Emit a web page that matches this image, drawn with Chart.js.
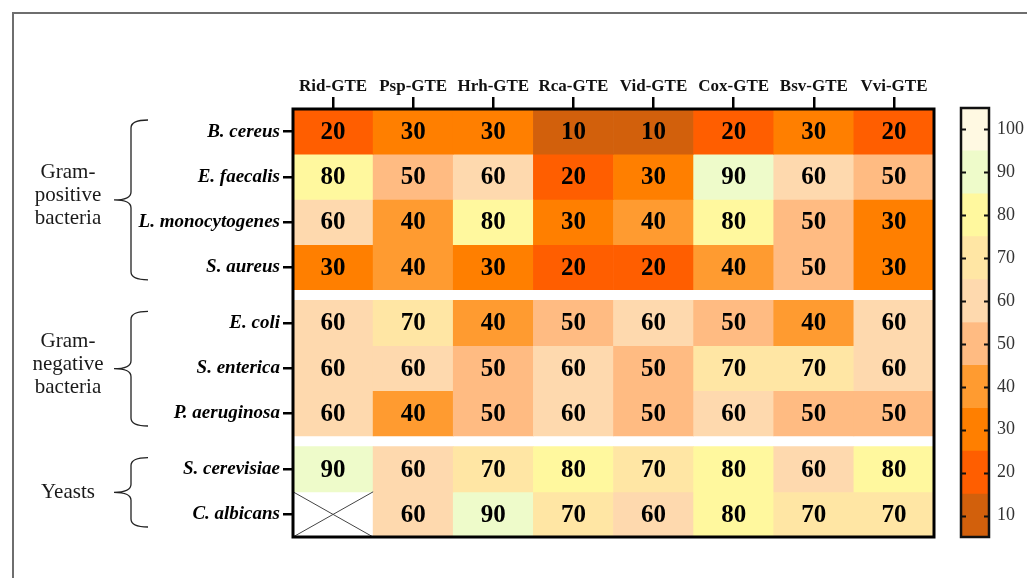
<!DOCTYPE html>
<html>
<head>
<meta charset="utf-8">
<script src="https://cdn.jsdelivr.net/npm/chart.js@4.4.1/dist/chart.umd.min.js"></script>
<style>
  html, body { margin: 0; padding: 0; background: #fff; }
  #wrap { position: relative; width: 1027px; height: 578px; overflow: hidden; }
  #frame { position: absolute; left: 12px; top: 12px; width: 1100px; height: 700px;
           border-left: 2px solid #6e6e6e; border-top: 2px solid #6e6e6e; }
  #main { position: absolute; left: 0; top: 0; }
  #scaleBar { position: absolute; left: 940px; top: 0; }
</style>
</head>
<body>
<div id="wrap">
  <div id="frame"></div>
  <canvas id="main" width="1027" height="578"></canvas>
  <canvas id="scaleBar" width="87" height="578"></canvas>
</div>
<script>
// Green tea extracts (columns)
const extracts = ['Rid-GTE', 'Psp-GTE', 'Hrh-GTE', 'Rca-GTE', 'Vid-GTE', 'Cox-GTE', 'Bsv-GTE', 'Vvi-GTE'];

// Test organisms (rows), top to bottom
const organisms = ['B. cereus', 'E. faecalis', 'L. monocytogenes', 'S. aureus',
                   'E. coli', 'S. enterica', 'P. aeruginosa',
                   'S. cerevisiae', 'C. albicans'];

// Organism groups with the number of rows each covers
const groupNames = [['Gram-', 'positive', 'bacteria'], ['Gram-', 'negative', 'bacteria'], ['Yeasts']];
const groupSizes = [4, 3, 2];

// Values per organism, one entry per extract (null = not tested)
const bCereus        = [20, 30, 30, 10, 10, 20, 30, 20];
const eFaecalis      = [80, 50, 60, 20, 30, 90, 60, 50];
const lMonocytogenes = [60, 40, 80, 30, 40, 80, 50, 30];
const sAureus        = [30, 40, 30, 20, 20, 40, 50, 30];
const eColi          = [60, 70, 40, 50, 60, 50, 40, 60];
const sEnterica      = [60, 60, 50, 60, 50, 70, 70, 60];
const pAeruginosa    = [60, 40, 50, 60, 50, 60, 50, 50];
const sCerevisiae    = [90, 60, 70, 80, 70, 80, 60, 80];
const cAlbicans      = [null, 60, 90, 70, 60, 80, 70, 70];

// Colour scale levels and their colours
const levels = [10, 20, 30, 40, 50, 60, 70, 80, 90, 100];
const levelColors = ['#d2600c', '#ff5e00', '#ff7f00', '#ff9b30', '#ffbb82',
                     '#fed9ae', '#ffe6a4', '#fff89e', '#eefbca', '#fff9e2'];

const rows = [bCereus, eFaecalis, lMonocytogenes, sAureus, eColi, sEnterica, pAeruginosa, sCerevisiae, cAlbicans];

const SERIF = '"Liberation Serif", "DejaVu Serif", serif';
const GROUP_GAP = 0.235;   // white separator between groups, in row heights

// Row placement on the value axis (top of each row, reversed axis)
const rowTop = [];
const groupSpan = [];
let pos = 0;
groupSizes.forEach((n, g) => {
  if (g > 0) pos += GROUP_GAP;
  const start = pos;
  for (let k = 0; k < n; k++) { rowTop.push(pos); pos += 1; }
  groupSpan.push([start, pos]);
});
const yMax = pos;

const colorFor = v => v == null ? '#ffffff' : levelColors[levels.indexOf(v)];

// Numbers, missing-cell cross, frame, braces and group labels
const heatDecor = {
  id: 'heatDecor',
  afterDatasetsDraw(chart) {
    const ctx = chart.ctx;
    const xs = chart.scales.x, ys = chart.scales.y;
    const cw = xs.width / extracts.length;
    ctx.save();
    ctx.fillStyle = '#000';
    ctx.font = 'bold 25px ' + SERIF;
    ctx.textAlign = 'center';
    ctx.textBaseline = 'middle';
    rows.forEach((vals, r) => {
      const meta = chart.getDatasetMeta(r);
      vals.forEach((v, c) => {
        if (v == null) {
          const x0 = xs.getPixelForValue(c) - cw / 2, x1 = x0 + cw;
          const y0 = ys.getPixelForValue(rowTop[r]), y1 = ys.getPixelForValue(rowTop[r] + 1);
          ctx.strokeStyle = '#444';
          ctx.lineWidth = 1;
          ctx.beginPath();
          ctx.moveTo(x0, y0); ctx.lineTo(x1, y1);
          ctx.moveTo(x1, y0); ctx.lineTo(x0, y1);
          ctx.stroke();
          return;
        }
        const el = meta.data[c];
        const p = el.getProps(['x', 'y', 'base'], true);
        ctx.fillText(String(v), p.x, (p.y + p.base) / 2 + 1);
      });
    });
    ctx.restore();
  },
  afterDraw(chart) {
    const ctx = chart.ctx;
    const a = chart.chartArea;
    const ys = chart.scales.y;
    ctx.save();
    ctx.strokeStyle = '#000';
    ctx.lineWidth = 3;
    ctx.strokeRect(a.left, a.top, a.right - a.left, a.bottom - a.top);

    // curly braces + group names
    ctx.strokeStyle = '#222';
    ctx.lineWidth = 1.3;
    ctx.fillStyle = '#1a1a1a';
    ctx.font = '21px ' + SERIF;
    ctx.textAlign = 'center';
    ctx.textBaseline = 'middle';
    groupSpan.forEach((span, g) => {
      const top = ys.getPixelForValue(span[0]) + 11;
      const bot = ys.getPixelForValue(span[1]) - 10;
      const mid = (top + bot) / 2;
      const x = 131, w = 17, r = 8;
      ctx.beginPath();
      ctx.moveTo(x + w, top);
      ctx.quadraticCurveTo(x, top, x, top + r);
      ctx.lineTo(x, mid - r);
      ctx.quadraticCurveTo(x, mid, x - w, mid);
      ctx.quadraticCurveTo(x, mid, x, mid + r);
      ctx.lineTo(x, bot - r);
      ctx.quadraticCurveTo(x, bot, x + w, bot);
      ctx.stroke();
      const lines = groupNames[g];
      const lh = 23;
      const textMid = lines.length > 1 ? mid - 4 : mid;
      lines.forEach((t, i) => {
        ctx.fillText(t, 68, textMid + (i - (lines.length - 1) / 2) * lh);
      });
    });
    ctx.restore();
  }
};

new Chart(document.getElementById('main'), {
  type: 'bar',
  data: {
    labels: extracts,
    datasets: rows.map((vals, r) => ({
      label: organisms[r],
      data: vals.map(v => v == null ? null : [rowTop[r], rowTop[r] + 1]),
      backgroundColor: vals.map(colorFor),
      borderWidth: 0,
      grouped: false,
      barPercentage: 1,
      categoryPercentage: 1
    }))
  },
  options: {
    responsive: false,
    animation: false,
    devicePixelRatio: 1,
    layout: { padding: { left: 0, top: 0, right: 93, bottom: 41 } },
    plugins: { legend: { display: false }, tooltip: { enabled: false } },
    scales: {
      x: {
        type: 'category',
        position: 'top',
        offset: true,
        grid: { offset: false, drawOnChartArea: false, drawTicks: true, tickLength: 12, color: '#000', lineWidth: 2.5 },
        border: { display: false },
        ticks: { color: '#111', padding: 0, maxRotation: 0, autoSkip: false, font: { family: SERIF, size: 17, weight: 'bold' } },
        afterFit: s => { s.height = 109; }
      },
      y: {
        type: 'linear',
        reverse: true,
        min: 0,
        max: yMax,
        afterBuildTicks: s => { s.ticks = rowTop.map(t => ({ value: t + 0.5 })); },
        grid: { drawOnChartArea: false, drawTicks: true, tickLength: 10, color: '#000', lineWidth: 2.5 },
        border: { display: false },
        ticks: {
          autoSkip: false,
          color: '#000',
          padding: 3,
          font: { family: SERIF, size: 19, weight: 'bold', style: 'italic' },
          callback: (value, index) => organisms[index]
        },
        afterFit: s => { s.width = 293; }
      }
    }
  },
  plugins: [heatDecor]
});

// Colour scale bar
const barDecor = {
  id: 'barDecor',
  afterDraw(chart) {
    const ctx = chart.ctx, a = chart.chartArea, ys = chart.scales.y;
    ctx.save();
    ctx.strokeStyle = '#111';
    ctx.lineWidth = 2;
    levels.forEach(v => {
      const y = Math.round(ys.getPixelForValue(v)) + 0.5;
      ctx.beginPath();
      ctx.moveTo(a.left, y); ctx.lineTo(a.left + 5, y);
      ctx.moveTo(a.right - 5, y); ctx.lineTo(a.right, y);
      ctx.stroke();
    });
    ctx.lineWidth = 2.5;
    ctx.strokeRect(a.left, a.top, a.right - a.left, a.bottom - a.top);
    ctx.restore();
  }
};

new Chart(document.getElementById('scaleBar'), {
  type: 'bar',
  data: {
    labels: [''],
    datasets: levels.map((lv, i) => ({
      data: [[lv - 5, lv + 5]],
      backgroundColor: levelColors[i],
      borderWidth: 0,
      grouped: false,
      barPercentage: 1,
      categoryPercentage: 1
    }))
  },
  options: {
    responsive: false,
    animation: false,
    devicePixelRatio: 1,
    layout: { padding: { left: 21, top: 108, right: 0, bottom: 41 } },
    plugins: { legend: { display: false }, tooltip: { enabled: false } },
    scales: {
      x: { display: false },
      y: {
        position: 'right',
        min: 5,
        max: 105,
        afterBuildTicks: s => { s.ticks = levels.map(v => ({ value: v })); },
        grid: { display: false, drawTicks: false },
        border: { display: false },
        ticks: { padding: 8, color: '#333', font: { family: SERIF, size: 18 } },
        afterFit: s => { s.width = 38; }
      }
    }
  },
  plugins: [barDecor]
});
</script>
</body>
</html>
